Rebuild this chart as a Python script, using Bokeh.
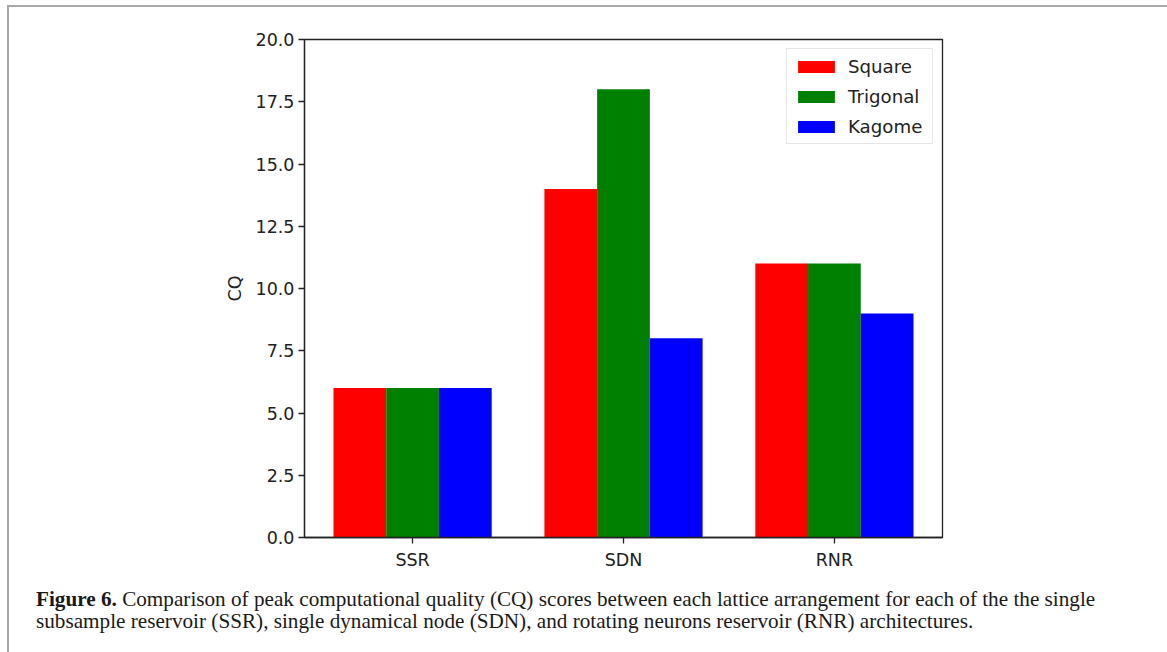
from bokeh.plotting import figure
from bokeh.layouts import column
from bokeh.models import (Range1d, FixedTicker, PrintfTickFormatter, Div,
                          Legend, LegendItem, ColumnDataSource)
from bokeh.transform import dodge
from bokeh.embed import file_html
from bokeh.resources import INLINE

# ---- data ----
categories = ["SSR", "SDN", "RNR"]
series = ["Square", "Trigonal", "Kagome"]
square = [6, 14, 11]
trigonal = [6, 18, 11]
kagome = [6, 8, 9]
colors = ["#ff0000", "#008000", "#0000ff"]
y_ticks = [0, 2.5, 5, 7.5, 10, 12.5, 15, 17.5, 20]
caption_bold = "Figure 6."
caption_line1 = ("Comparison of peak computational quality (CQ) scores between each "
                 "lattice arrangement for each of the the single")
caption_line2 = ("subsample reservoir (SSR), single dynamical node (SDN), and rotating "
                 "neurons reservoir (RNR) architectures.")

bar_w = 0.25
offsets = [-bar_w, 0.0, bar_w]
xs = list(range(len(categories)))
src = ColumnDataSource(dict(x=xs, Square=square, Trigonal=trigonal, Kagome=kagome))

lo = xs[0] + offsets[0] - bar_w / 2
hi = xs[-1] + offsets[-1] + bar_w / 2
pad = 0.05 * (hi - lo)

W, H = 1150, 576
p = figure(width=W, height=H, output_backend="svg", toolbar_location=None,
           x_range=Range1d(lo - pad, hi + pad), y_range=Range1d(0, 20),
           min_border_left=295, min_border_right=217, min_border_top=32,
           min_border_bottom=46)
p.background_fill_color = "white"
p.border_fill_color = "white"
p.outline_line_color = "#222222"
p.outline_line_width = 1.3
p.xgrid.visible = False
p.ygrid.visible = False

renderers = []
for name, off, col in zip(series, offsets, colors):
    r = p.vbar(x=dodge("x", off), top=name, width=bar_w, source=src,
               fill_color=col, line_color=None)
    renderers.append((name, r))

tick_font = "DejaVu Sans"
for ax in (p.xaxis[0], p.yaxis[0]):
    ax.axis_line_color = "#222222"
    ax.axis_line_width = 1.3
    ax.major_tick_line_color = "#222222"
    ax.major_tick_line_width = 1.3
    ax.major_tick_in = 0
    ax.major_tick_out = 6
    ax.minor_tick_line_color = None
    ax.major_label_text_font = tick_font
    ax.major_label_text_font_size = "17.5px"
    ax.major_label_text_color = "#222222"

p.xaxis.ticker = FixedTicker(ticks=xs)
p.xaxis.major_label_overrides = {i: c for i, c in enumerate(categories)}
p.xaxis.major_label_standoff = 6
p.yaxis.ticker = FixedTicker(ticks=y_ticks)
p.yaxis.formatter = PrintfTickFormatter(format="%.1f")
p.yaxis.major_label_standoff = 4
p.yaxis.axis_label = "CQ"
p.yaxis.axis_label_text_font = tick_font
p.yaxis.axis_label_text_font_size = "17.5px"
p.yaxis.axis_label_text_font_style = "normal"
p.yaxis.axis_label_text_color = "#222222"
p.yaxis.axis_label_standoff = 8

legend = Legend(items=[LegendItem(label=n, renderers=[r]) for n, r in renderers],
                location="top_right", margin=9, padding=6, spacing=8,
                glyph_width=46, glyph_height=15, label_height=22,
                label_width=78, label_standoff=9,
                label_text_font=tick_font, label_text_font_size="18.2px",
                label_text_color="#222222",
                border_line_color="#cccccc", border_line_width=1.2,
                background_fill_alpha=1.0)
p.add_layout(legend)

caption = Div(
    text=f"<b>{caption_bold}</b> {caption_line1}<br>{caption_line2}",
    width=W, height=66,
    styles={"font-family": "'Liberation Serif', serif", "font-size": "21.2px",
            "line-height": "22px", "color": "#1a1a1a", "white-space": "nowrap",
            "padding-left": "22px", "box-sizing": "border-box"})

layout = column(p, caption, spacing=0, margin=(5, 0, 0, 7),
                styles={"border-left": "2px solid #a8a8a8",
                        "border-top": "2px solid #a8a8a8",
                        "border-right": "2px solid #a8a8a8"})

open("out.html", "w").write(file_html(layout, INLINE))
